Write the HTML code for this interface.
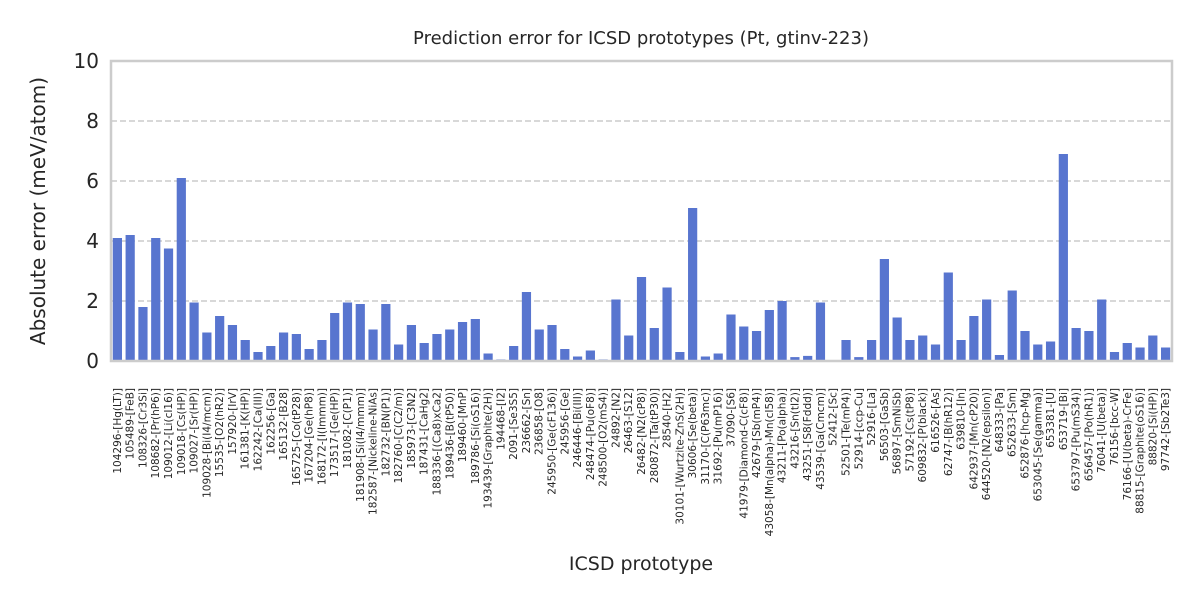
<!DOCTYPE html>
<html><head><meta charset="utf-8"><style>
html,body{margin:0;padding:0;background:#fff;}
svg{display:block;font-family:"DejaVu Sans","Liberation Sans",sans-serif;}
</style></head><body>
<svg id="chart" width="1200" height="600" viewBox="0 0 1200 600">
<text x="641" y="44" text-anchor="middle" font-size="18" fill="#262626">Prediction error for ICSD prototypes (Pt, gtinv-223)</text>
<text transform="translate(45,211) rotate(-90)" text-anchor="middle" font-size="20" fill="#262626">Absolute error (meV/atom)</text>
<text x="641" y="570" text-anchor="middle" font-size="19" fill="#262626">ICSD prototype</text>
<g id="grid"></g>
<g id="bars"></g>
<g id="yticks"></g>
<g id="xticks"></g>
<rect x="111" y="61" width="1061" height="300" fill="none" stroke="#cccccc" stroke-width="2.5"/>
</svg>
<script>
const categories = ["104296-[Hg(LT)]","105489-[FeB]","108326-[Cr3Si]","108682-[Pr(hP6)]","109012-[Li(cI16)]","109018-[Cs(HP)]","109027-[Sr(HP)]","109028-[Bi(I4/mcm)]","15535-[O2(hR2)]","157920-[IrV]","161381-[K(HP)]","162242-[Ca(III)]","162256-[Ga]","165132-[B28]","165725-[Co(tP28)]","167204-[Ge(hP8)]","168172-[I(Immm)]","173517-[Ge(HP)]","181082-[C(P1)]","181908-[Si(I4/mmm)]","182587-[Nickeline-NiAs]","182732-[BN(P1)]","182760-[C(C2/m)]","185973-[C3N2]","187431-[CaHg2]","188336-[(Ca8)xCa2]","189436-[B(tP50)]","189460-[MnP]","189786-[Si(oS16)]","193439-[Graphite(2H)]","194468-[I2]","2091-[Se3S5]","236662-[Sn]","236858-[O8]","245950-[Ge(cF136)]","245956-[Ge]","246446-[Bi(III)]","248474-[Pu(oF8)]","248500-[O2(mS4)]","24892-[N2]","26463-[S12]","26482-[N2(cP8)]","280872-[Ta(tP30)]","28540-[H2]","30101-[Wurtzite-ZnS(2H)]","30606-[Se(beta)]","31170-[C(P63mc)]","31692-[Pu(mP16)]","37090-[S6]","41979-[Diamond-C(cF8)]","42679-[Sb(mP4)]","43058-[Mn(alpha)-Mn(cI58)]","43211-[Po(alpha)]","43216-[Sn(tI2)]","43251-[S8(Fddd)]","43539-[Ga(Cmcm)]","52412-[Sc]","52501-[Te(mP4)]","52914-[ccp-Cu]","52916-[La]","56503-[GaSb]","56897-[SmNiSb]","57192-[Cs(tP8)]","609832-[P(black)]","616526-[As]","62747-[B(hR12)]","639810-[In]","642937-[Mn(cP20)]","644520-[N2(epsilon)]","648333-[Pa]","652633-[Sm]","652876-[hcp-Mg]","653045-[Se(gamma)]","653381-[U]","653719-[Bi]","653797-[Pu(mS34)]","656457-[Po(hR1)]","76041-[U(beta)]","76156-[bcc-W]","76166-[U(beta)-CrFe]","88815-[Graphite(oS16)]","88820-[Si(HP)]","97742-[Sb2Te3]"];
const errors = [4.1,4.2,1.8,4.1,3.75,6.1,1.95,0.95,1.5,1.2,0.7,0.3,0.5,0.95,0.9,0.4,0.7,1.6,1.95,1.9,1.05,1.9,0.55,1.2,0.6,0.9,1.05,1.3,1.4,0.25,0.05,0.5,2.3,1.05,1.2,0.4,0.15,0.35,0.05,2.05,0.85,2.8,1.1,2.45,0.3,5.1,0.15,0.25,1.55,1.15,1.0,1.7,2.0,0.13,0.17,1.95,0,0.7,0.13,0.7,3.4,1.45,0.7,0.85,0.55,2.95,0.7,1.5,2.05,0.2,2.35,1.0,0.55,0.65,6.9,1.1,1.0,2.05,0.3,0.6,0.45,0.85,0.45];
const yTicks = [0,2,4,6,8,10];

const NS="http://www.w3.org/2000/svg";
const L=111,R=1172,T=61,B=361,yMax=10;
const y=v=>B-(v/yMax)*(B-T);
const step=(R-L)/categories.length;
const x=i=>L+step*(i+0.5);
function mk(tag,attrs,parent){const e=document.createElementNS(NS,tag);for(const k in attrs)e.setAttribute(k,attrs[k]);parent.appendChild(e);return e;}
const grid=document.getElementById('grid'),bars=document.getElementById('bars'),yt=document.getElementById('yticks'),xt=document.getElementById('xticks');
yTicks.forEach(t=>{
  if(t>0&&t<yMax){const g=mk('line',{x1:L,x2:R,y1:y(t),y2:y(t),stroke:'#cccccc','stroke-width':1.6,'stroke-dasharray':'6,3'},grid);
  
  }
  const tx=mk('text',{x:L-12,y:y(t)+7,'text-anchor':'end','font-size':20,fill:'#262626'},yt);
  tx.textContent=t;
  
  
});
const bw=step*0.72;
categories.forEach((c,i)=>{
  const v=errors[i];
  const r=mk('rect',{x:x(i)-bw/2,y:y(v),width:bw,height:B-y(v),fill:'#5875cf'},bars);
  
  
  const tx=mk('text',{transform:`translate(${x(i)+3.5},388) rotate(-90)`,'text-anchor':'end','font-size':10.5,fill:'#262626'},xt);
  tx.textContent=c;
  
  
});
</script>
</body></html>
